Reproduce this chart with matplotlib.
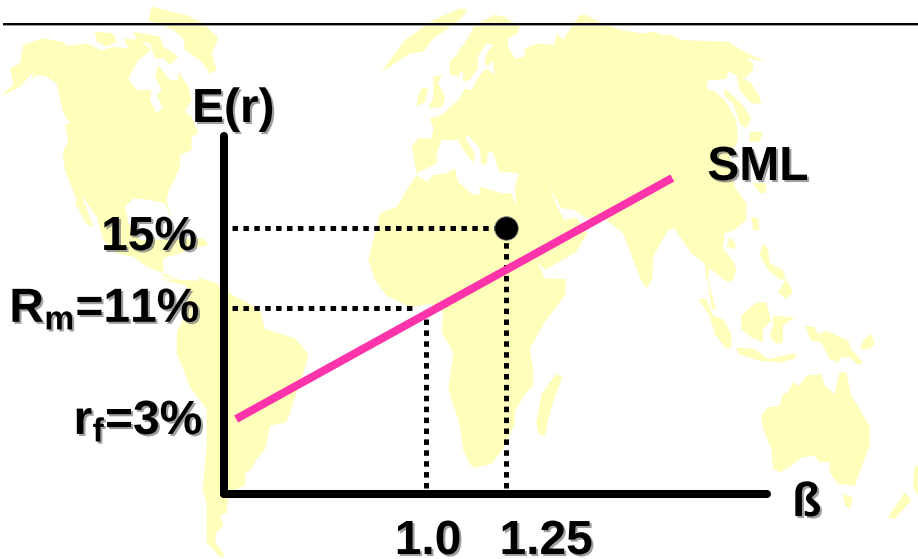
import numpy as np
import matplotlib
matplotlib.use('Agg')
import matplotlib.pyplot as plt
import matplotlib.patheffects as pe
from matplotlib.patches import Polygon

plt.rcParams['font.family'] = ['Liberation Sans', 'DejaVu Sans']
plt.rcParams['font.weight'] = 'bold'
plt.rcParams['mathtext.fontset'] = 'custom'
plt.rcParams['mathtext.bf'] = 'Liberation Sans:bold'
plt.rcParams['mathtext.rm'] = 'Liberation Sans:bold'

# chart values
beta_ticks = [1.0, 1.25]
beta_labels = ['1.0', '1.25']
return_ticks = [3, 11, 15]
return_labels = [r'r$\mathbf{_f}$=3%', r'R$\mathbf{_m}$=11%', '15%']
sml_beta = [0.06, 1.77]
sml_return = [3, 17.5]
stock_beta = 1.25
stock_return = 15
market_beta = 1.0
market_return = 11

# the axes are a sketch, not to scale
x_knots = [0, 1.0, 1.25, 2.078]
x_pixels = [224, 426, 506, 771]
y_knots = [0, 3, 11, 15, 19.8]
y_pixels = [-494, -419, -308, -228, -132]

YELLOW = '#FFFFBB'
PINK = '#FF33AA'


def t1(pts):
    return [(x / 3, y / 3) for x, y in pts]


def t2(pts):
    return [(x / 3 + 458, y / 3) for x, y in pts]


def t3(pts):
    return [(x / 3, y / 3 + 279) for x, y in pts]


def t4(pts):
    return [(x / 3 + 458, y / 3 + 279) for x, y in pts]


north_america = t1([(0, 290), (40, 255), (30, 205), (60, 190), (70, 135), (130, 115), (185, 125), (205, 138),
                    (262, 130), (305, 152), (340, 140), (385, 145), (370, 115), (420, 120), (455, 150), (415, 180),
                    (385, 235), (410, 270), (455, 270), (450, 300), (470, 340), (487, 325), (470, 285), (485, 270),
                    (465, 230), (475, 195), (510, 240), (535, 240), (535, 215), (565, 260), (575, 300), (555, 335),
                    (575, 350), (595, 400), (575, 410), (575, 450), (540, 465), (540, 500), (525, 535), (505, 575),
                    (500, 600), (515, 660), (495, 610), (450, 600), (400, 595), (375, 620), (385, 670), (420, 720),
                    (610, 715), (625, 735), (580, 745), (540, 760), (490, 775), (490, 830), (540, 840), (440, 800),
                    (400, 770), (350, 760), (310, 720), (290, 650), (245, 585), (230, 600), (195, 510), (188, 460),
                    (205, 420), (195, 375), (210, 370), (190, 340), (170, 250), (140, 230), (110, 225), (95, 240),
                    (100, 215), (60, 260)])
baja = t1([(243, 580), (280, 680), (262, 675), (225, 610)])
greenland = t1([(455, 20), (565, 48), (610, 70), (655, 115), (635, 160), (650, 210), (630, 222), (605, 185),
                (555, 150), (550, 115), (520, 90), (445, 60)])
arctic_a = t1([(285, 95), (340, 100), (350, 125), (320, 140), (290, 125)])
arctic_b = t1([(400, 95), (480, 110), (490, 140), (535, 170), (510, 195), (490, 175), (465, 175), (450, 130),
               (410, 120)])
south_america = t1([(590, 830), (650, 850)]) + t3([(700, 50), (780, 90), (795, 150), (885, 178), (925, 225),
                                                 (910, 285), (890, 340), (860, 430), (810, 440), (795, 510),
                                                 (770, 540), (750, 575), (735, 580), (735, 620), (685, 640),
                                                 (680, 700), (660, 710), (670, 740), (650, 760), (645, 790),
                                                 (675, 830), (660, 835), (620, 790), (620, 680), (608, 630),
                                                 (620, 500), (620, 390), (570, 325), (550, 270), (530, 225),
                                                 (530, 160), (560, 100), (560, 20), (480, 0), (600, 5)])
africa = t1([(1250, 525), (1220, 570), (1190, 620), (1140, 640), (1125, 700), (1105, 780), (1125, 840)]) \
    + t3([(1160, 50), (1230, 85), (1290, 75), (1330, 100), (1325, 160), (1360, 220), (1345, 330), (1380, 440)]) \
    + t4([(15, 510), (35, 555), (50, 567), (100, 555), (135, 510), (170, 435), (170, 400), (200, 345), (225, 320),
          (225, 265), (215, 210), (260, 130), (320, 50), (325, 0)]) \
    + t2([(260, 835), (235, 780), (175, 620), (160, 580), (130, 580), (65, 560), (65, 585), (40, 580), (0, 545)]) \
    + t1([(1365, 505), (1340, 520), (1300, 525), (1280, 545)])
eurasia = t2([(50, 75), (110, 45), (140, 50), (185, 80), (180, 100), (150, 115), (150, 140), (170, 175), (200, 170),
              (200, 145), (240, 130), (290, 135), (295, 100), (315, 120), (365, 45), (385, 45), (430, 70), (490, 90),
              (550, 100), (590, 95), (610, 105), (640, 105), (670, 120), (810, 125), (850, 150), (920, 185),
              (865, 175), (885, 190), (885, 210), (860, 235), (835, 225), (810, 215), (805, 235), (780, 240),
              (750, 240), (745, 265), (770, 275), (800, 300), (835, 360), (840, 420), (815, 470), (830, 560),
              (865, 610), (865, 660), (830, 690), (800, 700), (795, 745), (830, 790), (835, 810), (825, 840)]) \
    + t4([(810, 10), (795, 0)]) \
    + t2([(755, 805), (750, 838)]) \
    + t4([(760, 40), (775, 95), (760, 85), (748, 0)]) \
    + t2([(745, 838), (740, 790), (700, 760), (650, 685), (630, 690), (585, 770), (583, 838)]) \
    + t4([(565, 30), (548, 0)]) \
    + t2([(495, 700), (470, 680), (440, 655), (385, 655), (350, 630), (310, 625), (272, 560), (300, 625), (320, 660),
          (355, 652), (388, 700), (355, 755), (262, 810), (240, 790), (175, 620), (170, 565), (183, 520), (125, 515),
          (115, 490), (105, 455), (90, 458), (85, 495), (70, 490), (65, 445), (30, 405), (22, 412), (50, 460),
          (45, 490), (10, 440), (0, 420)]) \
    + t1([(1325, 420), (1310, 460), (1310, 490), (1250, 520), (1235, 440), (1255, 415), (1295, 415), (1300, 385),
          (1290, 355), (1325, 345), (1380, 295)]) \
    + t2([(5, 295), (20, 265), (40, 270), (65, 225), (85, 205), (110, 225), (105, 180), (90, 200), (80, 190),
          (85, 160), (105, 135), (85, 130), (60, 170), (60, 205), (35, 240), (15, 245), (15, 215), (0, 215), (0, 155),
          (20, 130)])
strip = t1([(1145, 215), (1215, 120), (1300, 60), (1380, 25)]) + t2([(30, 28), (5, 60)]) \
    + t1([(1330, 95), (1300, 115), (1270, 155), (1230, 160), (1170, 200)])
norway = t1([(1380, 155), (1348, 185), (1350, 225), (1380, 230)])
britain = t1([(1300, 230), (1325, 225), (1315, 250), (1335, 290), (1330, 320), (1285, 325), (1300, 290), (1300, 260)])
ireland = t1([(1265, 265), (1285, 265), (1275, 305), (1250, 320), (1255, 285)])
hainan = t2([(805, 740), (815, 710), (832, 730), (832, 748)])
japan = t2([(800, 265), (850, 310), (880, 355), (865, 385), (845, 370), (825, 310), (800, 290)])
sakhalin = t2([(865, 240), (880, 250), (905, 290), (910, 310), (880, 310), (845, 270), (835, 225)])
ryukyu_a = t2([(875, 395), (915, 395), (905, 425), (875, 425)])
ryukyu_b = t2([(885, 550), (925, 550), (925, 580), (905, 580)])
taiwan = t2([(880, 650), (900, 655), (905, 690), (885, 690)])
philippines = t2([(915, 730), (930, 745), (935, 790), (975, 810), (985, 838), (965, 838), (930, 810), (905, 765)])
mindanao = t4([(965, 30), (985, 0), (1005, 40), (985, 60), (960, 40)])
sumatra = t4([(720, 60), (745, 60), (765, 110), (795, 120), (820, 165), (820, 205), (805, 210), (770, 165), (755, 110)])
borneo = t4([(850, 110), (895, 70), (925, 70), (940, 125), (915, 150), (915, 190), (880, 175), (850, 150)])
sulawesi = t4([(945, 110), (1010, 115), (975, 140), (975, 190), (955, 195), (935, 170), (945, 140)])
java = t4([(835, 205), (890, 210), (930, 240), (1015, 222), (1010, 240), (965, 250), (905, 245), (840, 225)])
new_guinea = t4([(1040, 140), (1070, 145), (1080, 165), (1105, 155), (1170, 185), (1180, 210), (1215, 250), (1200, 258),
                 (1175, 235), (1150, 235), (1140, 250), (1115, 240), (1090, 190), (1060, 185)])
solomon = t4([(1205, 210), (1215, 185), (1240, 165), (1250, 195), (1235, 210)])
australia = t4([(910, 410), (930, 385), (965, 380), (975, 345), (990, 340), (1005, 310), (1025, 320), (1045, 290),
                (1090, 285), (1100, 320), (1130, 345), (1145, 280), (1165, 280), (1180, 350), (1235, 440), (1235, 500),
                (1205, 580), (1190, 620), (1140, 615), (1115, 580), (1115, 550), (1085, 550), (1070, 530), (1030, 535),
                (1000, 560), (965, 580), (945, 570), (940, 510), (915, 450)])
tasmania = t4([(1155, 645), (1183, 655), (1178, 690), (1160, 680)])
nz_south = t4([(1290, 715), (1340, 640), (1360, 665), (1310, 720)])
nz_north = t4([(1370, 560), (1380, 560), (1380, 650), (1365, 625)])
madagascar = t4([(250, 345), (295, 285), (313, 295), (285, 370), (270, 425), (262, 470), (240, 465), (235, 430)])

land = [north_america, baja, greenland, arctic_a, arctic_b, south_america, africa, eurasia, strip, norway, britain,
        ireland, hainan, japan, sakhalin, ryukyu_a, ryukyu_b, taiwan, philippines, mindanao, sumatra, borneo, sulawesi,
        java, new_guinea, solomon, australia, tasmania, nz_south, nz_north, madagascar]

fig = plt.figure(figsize=(9.18, 5.59), dpi=100, facecolor='white')

# background map and the rule at the top
bg = fig.add_axes([0, 0, 1, 1])
bg.set_xlim(0, 918)
bg.set_ylim(559, 0)
bg.axis('off')
for outline in land:
    bg.add_patch(Polygon(outline, closed=True, fc=YELLOW, ec='none'))
bg.plot([3, 918], [25, 25], color='#999999', lw=1.4, solid_capstyle='butt')
bg.plot([3, 918], [24, 24], color='black', lw=1.4, solid_capstyle='butt')

ax = fig.add_axes([224 / 918, (559 - 494) / 559, (767 - 224) / 918, (494 - 136) / 559])
ax.patch.set_alpha(0)
x_knots[-1] = 2.066
x_pixels[-1] = 767
y_knots[-1] = 19.6
y_pixels[-1] = -136
ax.set_xscale('function', functions=(lambda v: np.interp(v, x_knots, x_pixels),
                                     lambda p: np.interp(p, x_pixels, x_knots)))
ax.set_yscale('function', functions=(lambda v: np.interp(v, y_knots, y_pixels),
                                     lambda p: np.interp(p, y_pixels, y_knots)))
ax.set_xlim(x_knots[0], x_knots[-1])
ax.set_ylim(y_knots[0], y_knots[-1])
ax.set_xticks([])
ax.set_yticks([])
ax.minorticks_off()

for side in ['top', 'right']:
    ax.spines[side].set_visible(False)
for side in ['left', 'bottom']:
    ax.spines[side].set_linewidth(5.8)
    ax.spines[side].set_capstyle('round')

dots = (0, (1.1, 1.08))
ax.plot([0.04, stock_beta], [stock_return, stock_return], color='black', lw=3.6, ls=dots, clip_on=False)
ax.plot([0.04, 0.93], [market_return, market_return], color='black', lw=3.6, ls=dots)
ax.plot([market_beta, market_beta], [0.24, 10.2], color='black', lw=3.6, ls=dots)
ax.plot([stock_beta, stock_beta], [0.24, stock_return], color='black', lw=3.6, ls=dots)
ax.plot(sml_beta, sml_return, color=PINK, lw=5.8, solid_capstyle='butt')
ax.plot([stock_beta], [stock_return], 'o', color='black', ms=17, mec='#888888', mew=0.6)

shadow = [pe.SimplePatchShadow(offset=(1.5, -1.5), shadow_rgbFace='#777777', alpha=0.7), pe.Normal()]


def label(text, xy, xycoords, dx, dy, ha):
    ax.annotate(text, xy=xy, xycoords=xycoords, xytext=(dx, dy), textcoords='offset pixels', ha=ha, va='baseline',
                fontsize=34.5, fontweight='bold', color='black', path_effects=shadow, annotation_clip=False)


y_trans = ax.get_yaxis_transform()
x_trans = ax.get_xaxis_transform()
label(return_labels[0], (0, return_ticks[0]), y_trans, -21, -15, 'right')
label(return_labels[1], (0, return_ticks[1]), y_trans, -24, -14, 'right')
label(return_labels[2], (0, return_ticks[2]), y_trans, -27, -22, 'right')
label(beta_labels[0], (beta_ticks[0], 0), x_trans, 2, -60, 'center')
label(beta_labels[1], (beta_ticks[1], 0), x_trans, 40, -60, 'center')
label('E(r)', (0, 1), 'axes fraction', -32, 14, 'left')
label('SML', (sml_beta[1], sml_return[1]), 'data', 35, -2, 'left')
label('ß', (1, 0), 'axes fraction', 25, -22, 'left')

fig.savefig('out.png', dpi=100)
